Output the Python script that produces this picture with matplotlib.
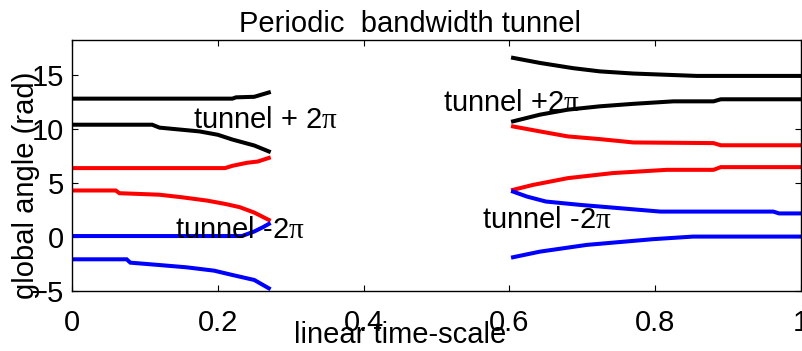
import numpy as np
import matplotlib
matplotlib.use('Agg')
import matplotlib.pyplot as plt

plt.rcParams['font.family'] = ['Liberation Sans', 'DejaVu Sans']
plt.rcParams['mathtext.fontset'] = 'custom'
plt.rcParams['mathtext.rm'] = 'Liberation Serif'

# left part of the tunnel (t from 0 to ~0.27)
t_black_hi_L = [0, 0.22, 0.225, 0.25, 0.255, 0.27]
y_black_hi_L = [12.78, 12.78, 12.9, 12.95, 13.05, 13.35]
t_black_lo_L = [0, 0.11, 0.12, 0.175, 0.2, 0.22, 0.25, 0.27]
y_black_lo_L = [10.37, 10.37, 10.1, 9.75, 9.44, 9.0, 8.45, 7.9]
t_red_hi_L = [0, 0.21, 0.22, 0.24, 0.255, 0.27]
y_red_hi_L = [6.36, 6.36, 6.57, 6.85, 6.97, 7.3]
t_red_lo_L = [0, 0.06, 0.065, 0.12, 0.15, 0.185, 0.21, 0.23, 0.25, 0.27]
y_red_lo_L = [4.29, 4.29, 4.04, 3.9, 3.67, 3.36, 3.05, 2.75, 2.25, 1.57]
t_blue_hi_L = [0, 0.233, 0.25, 0.262, 0.27]
y_blue_hi_L = [0.08, 0.08, 0.5, 0.9, 1.2]
t_blue_lo_L = [0, 0.075, 0.08, 0.12, 0.157, 0.195, 0.22, 0.25, 0.27]
y_blue_lo_L = [-2.07, -2.07, -2.38, -2.6, -2.81, -3.12, -3.52, -3.98, -4.75]

# right part (t from ~0.605 to 1)
t_black_hi_R = [0.605, 0.642, 0.687, 0.724, 0.77, 0.857, 1.0]
y_black_hi_R = [16.55, 16.08, 15.6, 15.3, 15.1, 14.88, 14.88]
t_black_lo_R = [0.605, 0.642, 0.68, 0.724, 0.77, 0.825, 0.88, 0.89, 1.0]
y_black_lo_R = [10.68, 11.3, 11.76, 12.07, 12.3, 12.53, 12.53, 12.72, 12.72]
t_red_hi_R = [0.605, 0.642, 0.68, 0.724, 0.77, 0.88, 0.89, 1.0]
y_red_hi_R = [10.21, 9.75, 9.29, 9.04, 8.73, 8.67, 8.47, 8.47]
t_red_lo_R = [0.605, 0.632, 0.68, 0.742, 0.816, 0.88, 0.89, 1.0]
y_red_lo_R = [4.35, 4.8, 5.43, 5.9, 6.2, 6.2, 6.45, 6.45]
t_blue_hi_R = [0.605, 0.624, 0.65, 0.697, 0.807, 0.962, 0.97, 1.0]
y_blue_hi_R = [4.19, 3.73, 3.27, 2.96, 2.34, 2.34, 2.17, 2.17]
t_blue_lo_R = [0.605, 0.642, 0.706, 0.797, 0.852, 1.0]
y_blue_lo_R = [-1.88, -1.36, -0.74, -0.21, 0.03, 0.03]

xticks = [0, 0.2, 0.4, 0.6, 0.8, 1]
yticks = [-5, 0, 5, 10, 15]

fig = plt.figure(figsize=(8.03, 3.51), dpi=100)
ax = fig.add_axes([72/803, 60/351, 729/803, 251/351])

lw = 2.9
curves = [
    (t_black_hi_L, y_black_hi_L, 'k'), (t_black_lo_L, y_black_lo_L, 'k'),
    (t_red_hi_L, y_red_hi_L, 'r'), (t_red_lo_L, y_red_lo_L, 'r'),
    (t_blue_hi_L, y_blue_hi_L, 'b'), (t_blue_lo_L, y_blue_lo_L, 'b'),
    (t_black_hi_R, y_black_hi_R, 'k'), (t_black_lo_R, y_black_lo_R, 'k'),
    (t_red_hi_R, y_red_hi_R, 'r'), (t_red_lo_R, y_red_lo_R, 'r'),
    (t_blue_hi_R, y_blue_hi_R, 'b'), (t_blue_lo_R, y_blue_lo_R, 'b'),
]
for t, y, c in curves:
    ax.plot(t, y, color=c, lw=lw, solid_joinstyle='miter')

fs = 21
ax.text(0.166, 10.1, r'tunnel + 2$\mathrm{\pi}$', fontsize=fs, va='baseline', zorder=5)
ax.text(0.509, 11.6, r'tunnel +2$\mathrm{\pi}$', fontsize=fs, va='baseline', zorder=5)
ax.text(0.141, -0.1, r'tunnel -2$\mathrm{\pi}$', fontsize=fs, va='baseline', zorder=5)
ax.text(0.562, 0.83, r'tunnel -2$\mathrm{\pi}$', fontsize=fs, va='baseline', zorder=5)

ax.set_xlim(0, 1)
ax.set_ylim(-5, 18.2)
ax.set_xticks(xticks)
ax.set_xticklabels(['0', '0.2', '0.4', '0.6', '0.8', '1'])
ax.set_yticks(yticks)
ax.tick_params(direction='in', top=True, right=True, length=4, width=0.8,
               labelsize=fs)
ax.tick_params(axis='x', pad=13)
ax.tick_params(axis='y', pad=6)
for s in ax.spines.values():
    s.set_linewidth(1.0)

fig.text(410/803, 1 - 32/351, 'Periodic  bandwidth tunnel', fontsize=fs,
         ha='center', va='baseline')
fig.text(400/803, 1 - 343/351, 'linear time-scale', fontsize=fs,
         ha='center', va='baseline')
fig.text(26/803, 1 - 185/351, 'global angle (rad)', fontsize=fs,
         ha='center', va='center', rotation=90)

fig.savefig('out.png', dpi=100)
